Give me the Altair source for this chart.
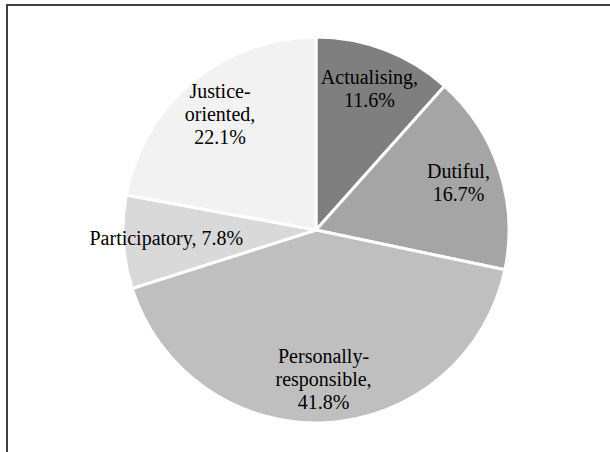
import altair as alt
import pandas as pd

categories = ["Actualising", "Dutiful", "Personally-responsible", "Participatory", "Justice-oriented"]
shares = [11.6, 16.7, 41.8, 7.8, 22.1]
label_lines = [
    "Actualising,|11.6%",
    "Dutiful,|16.7%",
    "Personally-|responsible,|41.8%",
    "Participatory, 7.8%",
    "Justice-|oriented,|22.1%",
]
greys = ["#7f7f7f", "#a5a5a5", "#bfbfbf", "#d9d9d9", "#f2f2f2"]

df = pd.DataFrame({
    "category": categories,
    "share": shares,
    "label": label_lines,
    "order": list(range(len(categories))),
})

CX, CY, R = 316, 230, 193
LR = 150   # label radius
LH = 23    # line height

arcs = alt.Chart(df).mark_arc(outerRadius=R, stroke="white", strokeWidth=3).encode(
    theta=alt.Theta("share:Q", stack=True),
    order=alt.Order("order:Q"),
    color=alt.Color("category:N", scale=alt.Scale(domain=categories, range=greys), legend=None),
    x=alt.value(CX),
    y=alt.value(CY),
)

texts = alt.Chart(df).transform_joinaggregate(
    total="sum(share)"
).transform_window(
    cum="sum(share)", sort=[alt.SortField("order")], frame=[None, 0]
).transform_calculate(
    mid=f"(datum.cum - datum.share / 2) / datum.total * 2 * PI",
    lines="split(datum.label, '|')",
).transform_flatten(
    ["lines"]
).transform_window(
    line_idx="row_number()", groupby=["category"]
).transform_joinaggregate(
    nlines="count()", groupby=["category"]
).transform_calculate(
    px=f"{CX} + {LR} * sin(datum.mid)",
    py=f"{CY} - {LR} * cos(datum.mid) + (datum.line_idx - 1 - (datum.nlines - 1) / 2) * {LH}",
).mark_text(
    font="Liberation Serif", fontSize=20, color="black", align="center", baseline="middle",
).encode(
    text="lines:N",
    x=alt.X("px:Q", scale=None),
    y=alt.Y("py:Q", scale=None),
)

frame = alt.Chart(alt.Data(values=[{}])).mark_rect(
    fillOpacity=0, stroke="#404040", strokeWidth=2
).encode(
    x=alt.value(7), x2=alt.value(700), y=alt.value(5), y2=alt.value(700)
)

chart = alt.layer(frame, arcs, texts).properties(
    width=610, height=452, autosize="none", padding=0
).configure_view(strokeWidth=0)

chart.save("out.html", embed_options={"renderer": "svg", "actions": False})
